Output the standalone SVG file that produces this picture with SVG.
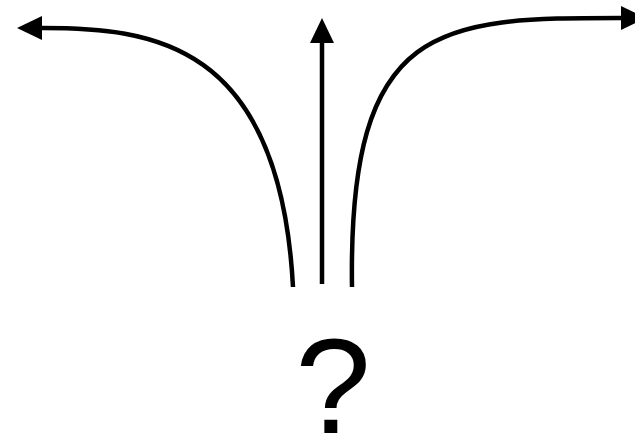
<svg xmlns="http://www.w3.org/2000/svg" width="635" height="446" viewBox="0 0 635 446">
<style>
.c{fill:none;stroke:#000;stroke-width:4.5}
.h{fill:#000}
.t{font-family:"Liberation Sans",Arial,sans-serif;font-size:136px;fill:#000}
</style>
<rect width="635" height="446" fill="#fff"/>
<g id="connectors">
<path class="c" d="M 293 287 C 280 40, 150 28, 42 28"/>
<polygon class="h" points="17,28 42,16 42,40"/>
<path class="c" d="M 322 284 L 322 42"/>
<polygon class="h" points="322,18 310,43 334,43"/>
<path class="c" d="M 352 287 C 348 20, 440 18, 621 18"/>
<polygon class="h" points="646,18 621,6 621,30"/>
</g>
<g id="question">
<text class="t" x="333" y="433" text-anchor="middle">?</text>
</g>
</svg>
